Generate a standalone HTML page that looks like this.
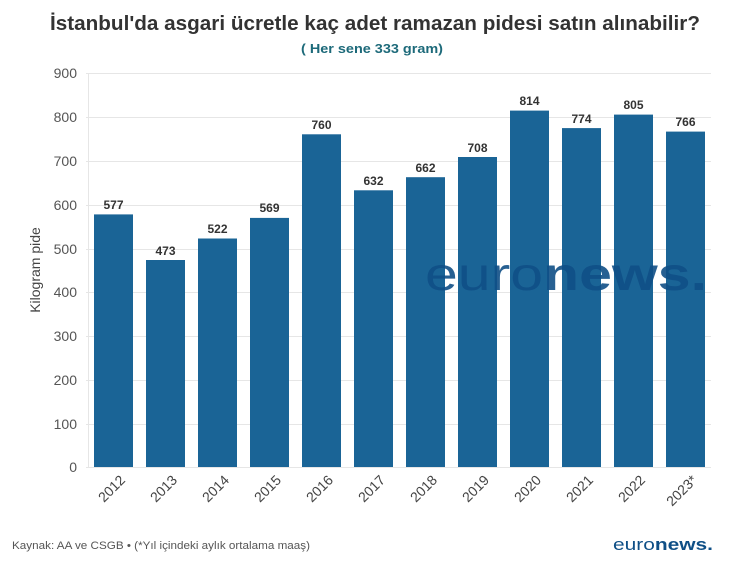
<!DOCTYPE html>
<html><head><meta charset="utf-8"><style>
html,body{margin:0;padding:0;background:#fff;}
svg{display:block;font-family:"Liberation Sans","DejaVu Sans",sans-serif;}
</style></head><body>
<svg width="750" height="567" viewBox="0 0 750 567" xmlns="http://www.w3.org/2000/svg">
<rect width="750" height="567" fill="#fff"/>
<text x="375" y="30" text-anchor="middle" font-size="20" font-weight="bold" fill="#333" textLength="650" lengthAdjust="spacingAndGlyphs">İstanbul'da asgari ücretle kaç adet ramazan pidesi satın alınabilir?</text>
<text x="372" y="53" text-anchor="middle" font-size="13" font-weight="bold" fill="#1d6a7a" textLength="142" lengthAdjust="spacingAndGlyphs">( Her sene 333 gram)</text>
<g stroke="#e6e6e6" stroke-width="1">
<line x1="86" x2="711" y1="73.5" y2="73.5"/><line x1="86" x2="711" y1="117.5" y2="117.5"/>
<line x1="86" x2="711" y1="161.5" y2="161.5"/><line x1="86" x2="711" y1="205.5" y2="205.5"/>
<line x1="86" x2="711" y1="249.5" y2="249.5"/><line x1="86" x2="711" y1="292.5" y2="292.5"/>
<line x1="86" x2="711" y1="336.5" y2="336.5"/><line x1="86" x2="711" y1="380.5" y2="380.5"/>
<line x1="86" x2="711" y1="424.5" y2="424.5"/><line x1="86" x2="711" y1="467.5" y2="467.5"/>
<line x1="88.5" x2="88.5" y1="73" y2="467"/>
</g>
<g font-size="14" fill="#555" text-anchor="end">
<text x="77" y="78">900</text><text x="77" y="122">800</text><text x="77" y="166">700</text>
<text x="77" y="210">600</text><text x="77" y="254">500</text><text x="77" y="297">400</text>
<text x="77" y="341">300</text><text x="77" y="385">200</text><text x="77" y="429">100</text>
<text x="77" y="472">0</text>
</g>
<text transform="translate(40,270) rotate(-90)" text-anchor="middle" font-size="14" fill="#444">Kilogram pide</text>
<g fill="#1a6496">
<rect x="94" y="214.4" width="39" height="252.6"/>
<rect x="146" y="260" width="39" height="207"/>
<rect x="198" y="238.5" width="39" height="228.5"/>
<rect x="250" y="217.9" width="39" height="249.1"/>
<rect x="302" y="134.3" width="39" height="332.7"/>
<rect x="354" y="190.3" width="39" height="276.7"/>
<rect x="406" y="177.2" width="39" height="289.8"/>
<rect x="458" y="157" width="39" height="310"/>
<rect x="510" y="110.6" width="39" height="356.4"/>
<rect x="562" y="128.1" width="39" height="338.9"/>
<rect x="614" y="114.6" width="39" height="352.4"/>
<rect x="666" y="131.6" width="39" height="335.4"/>
</g>
<g font-size="12" font-weight="bold" fill="#333" text-anchor="middle">
<text x="113.5" y="209">577</text><text x="165.5" y="255">473</text><text x="217.5" y="233">522</text>
<text x="269.5" y="212">569</text><text x="321.5" y="129">760</text><text x="373.5" y="185">632</text>
<text x="425.5" y="172">662</text><text x="477.5" y="152">708</text><text x="529.5" y="105">814</text>
<text x="581.5" y="123">774</text><text x="633.5" y="109">805</text><text x="685.5" y="126">766</text>
</g>
<text x="425" y="290" font-size="46" fill="#0f4f86" fill-opacity="0.9" textLength="282" lengthAdjust="spacingAndGlyphs"><tspan>euro</tspan><tspan font-weight="bold">news.</tspan></text>
<g font-size="14" fill="#444" text-anchor="end">
<text transform="translate(126,481) rotate(-45)">2012</text>
<text transform="translate(178,481) rotate(-45)">2013</text>
<text transform="translate(230,481) rotate(-45)">2014</text>
<text transform="translate(282,481) rotate(-45)">2015</text>
<text transform="translate(334,481) rotate(-45)">2016</text>
<text transform="translate(386,481) rotate(-45)">2017</text>
<text transform="translate(438,481) rotate(-45)">2018</text>
<text transform="translate(490,481) rotate(-45)">2019</text>
<text transform="translate(542,481) rotate(-45)">2020</text>
<text transform="translate(594,481) rotate(-45)">2021</text>
<text transform="translate(646,481) rotate(-45)">2022</text>
<text transform="translate(698,481) rotate(-45)">2023*</text>
</g>
<text x="12" y="549" font-size="11" fill="#555" textLength="298" lengthAdjust="spacingAndGlyphs">Kaynak: AA ve CSGB • (*Yıl içindeki aylık ortalama maaş)</text>
<text x="613" y="550" font-size="17" fill="#0f4f86" textLength="100" lengthAdjust="spacingAndGlyphs"><tspan>euro</tspan><tspan font-weight="bold">news.</tspan></text>
</svg>
</body></html>
